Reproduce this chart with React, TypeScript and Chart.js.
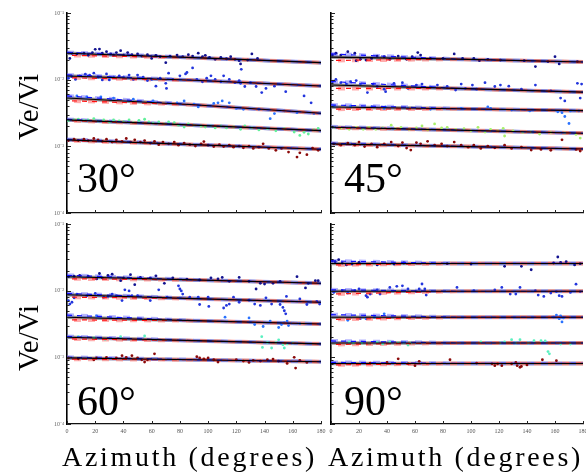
import React, { useEffect, useRef } from 'react';
import { Chart, registerables } from 'chart.js';

Chart.register(...registerables);

// ---------- axis / tick data ----------
const azimuthTicks = [0, 20, 40, 60, 80, 100, 120, 140, 160, 180];
const yDecades = [1e-4, 1e-3, 1e-2];
const ySignificands = [1, 2, 3, 4, 5, 6, 7, 8, 9];
const yMajorValues = [1e-4, 1e-3, 1e-2, 1e-1];
const yMajorLabels = ['10⁻⁴', '10⁻³', '10⁻²', '10⁻¹'];
const fitX = [0, 90, 180];

// ---------- 30° ----------
const pts30L1 = [[2,0.0208],[3.5,0.0248],[7,0.0243],[12,0.025],[15,0.0232],[18,0.0255],[20,0.0285],[23,0.0288],[25,0.025],[28,0.0263],[31,0.0243],[33,0.0234],[35,0.0255],[38,0.0272],[40,0.0234],[43,0.0255],[46,0.0237],[50,0.0243],[53,0.0226],[57,0.0237],[60,0.0208],[63,0.0232],[66,0.0221],[70,0.018],[73,0.0226],[78,0.0234],[82,0.0221],[86,0.0237],[89,0.0226],[93,0.025],[96,0.0221],[98,0.0232],[101,0.0216],[105,0.0202],[109,0.0216],[113,0.0206],[116,0.0221],[119,0.0202],[122,0.0193],[123,0.0172],[128,0.0197],[131,0.0243],[135,0.0208]];
const pts30L2 = [[1,0.0105],[3.5,0.0111],[6,0.0101],[9,0.0114],[13,0.0121],[16,0.0117],[19,0.0125],[22,0.0109],[25,0.0099],[28,0.0122],[30,0.0099],[33,0.0109],[37,0.0114],[40,0.0109],[44,0.0117],[47,0.0101],[50,0.0117],[54,0.0109],[57,0.0097],[60,0.0101],[63,0.008],[66,0.0105],[70,0.0088],[70.5,0.0074],[72,0.0125],[75,0.0101],[80,0.0114],[84,0.0122],[85,0.0128],[89,0.015],[92,0.0101],[96,0.0093],[99,0.0105],[102,0.0114],[105,0.0101],[109,0.0093],[111,0.0114],[115,0.0101],[119,0.009],[122,0.0097],[123,0.0088],[123.5,0.0143],[126,0.0079],[130,0.009],[134,0.0079],[138,0.0064],[141,0.0074],[147,0.008],[155,0.0066],[168,0.0057],[173,0.0045]];
const pts30L3 = [[7,0.0057],[14,0.0055],[24,0.0055],[33,0.0053],[47,0.0051],[61,0.0048],[78,0.0045],[83,0.0048],[90,0.0043],[93,0.0039],[104,0.0044],[107,0.0045],[110,0.0048],[115,0.0045],[120,0.0037],[125,0.0036],[136,0.0036],[144,0.0026],[147,0.0031],[154,0.0034],[163,0.0032],[175,0.0031]];
const pts30L4 = [[1,0.00244],[5,0.00249],[8,0.00255],[12,0.00244],[15,0.00249],[19,0.00261],[22,0.0024],[26,0.00249],[30,0.00232],[33,0.00249],[37,0.0024],[40,0.00232],[44,0.00249],[47,0.00227],[51,0.00244],[55,0.00255],[58,0.00232],[61,0.00222],[65,0.00232],[69,0.00217],[72,0.00232],[76,0.00227],[79,0.00208],[83,0.00195],[86,0.00217],[90,0.00208],[95,0.00202],[98,0.00195],[102,0.00202],[105,0.00189],[109,0.00202],[113,0.00189],[118,0.00195],[123,0.0018],[126,0.00202],[131,0.00189],[136,0.00176],[142,0.00184],[148,0.00171],[154,0.00184],[161,0.00164],[165,0.00146],[168,0.00162],[171,0.00153],[175,0.00176],[178,0.00186]];
const pts30L5 = [[1,0.00122],[5,0.00128],[8,0.00122],[12,0.00128],[15,0.00122],[19,0.00131],[22,0.00125],[25,0.00119],[28,0.00128],[32,0.00116],[35,0.00125],[39,0.00119],[42,0.00131],[45,0.00116],[48,0.00125],[52,0.00116],[55,0.00122],[59,0.00112],[62,0.00119],[65,0.00106],[68,0.00116],[72,0.00109],[76,0.00116],[79,0.00104],[83,0.00112],[87,0.00106],[91,0.00101],[95,0.00109],[97,0.00118],[100,0.00104],[104,0.00099],[108,0.00106],[111,0.00099],[115,0.00104],[118,0.00097],[122,0.00101],[125,0.00095],[129,0.00101],[132,0.00093],[136,0.00097],[139,0.00109],[143,0.00093],[148,0.00087],[152,0.00093],[157,0.00082],[163,0.00069],[165,0.0008],[170,0.00075],[174,0.00094],[178,0.00087]];
const black30Start = [0.0249, 0.01135, 0.00532, 0.00249, 0.00125];
const black30Mid = [0.0214, 0.0098, 0.0042, 0.00208, 0.00106];
const black30End = [0.018, 0.00805, 0.00313, 0.00172, 0.000906];
const blue30Start = [0.0256, 0.0118, 0.0057, 0.00253, 0.00127];
const red30Start = [0.0232, 0.0107, 0.00484, 0.00244, 0.00122];
const colors30 = ['#12128f', '#2235dd', '#2a72ff', '#62f09a', '#8b0a0a'];

// ---------- 45° ----------
const pts45L1 = [[1,0.0234],[3.5,0.025],[7,0.0234],[12,0.0263],[17,0.025],[18,0.0193],[21,0.0202],[25,0.0197],[29,0.0208],[33,0.0226],[38,0.0221],[42,0.0202],[48,0.0226],[54,0.0202],[58,0.0221],[62,0.0255],[64,0.0234],[71,0.0208],[80,0.0208],[88,0.0243],[94,0.0208],[102,0.0208],[106,0.0193],[112,0.0202],[121,0.0197],[138,0.0193],[146,0.0157],[155,0.0187],[160,0.0221],[163,0.0172],[176,0.0187]];
const pts45L2 = [[1,0.0093],[3.5,0.0101],[7,0.009],[11,0.0086],[14,0.0093],[18,0.0097],[21,0.0086],[26,0.0064],[30,0.0086],[33,0.0079],[38,0.0072],[39,0.0066],[45,0.0088],[51,0.009],[55,0.0074],[61,0.0083],[65,0.0086],[71,0.0077],[76,0.0083],[83,0.0079],[89,0.007],[93,0.0086],[96,0.0074],[101,0.0083],[104,0.0072],[110,0.009],[117,0.0079],[121,0.0083],[127,0.008],[136,0.0072],[146,0.0083],[157,0.0068],[164,0.0053],[167,0.0048],[176,0.0088],[178,0.0053],[179,0.0086]];
const pts45L3 = [[2,0.004],[14,0.004],[29,0.0039],[38,0.0037],[39,0.0039],[55,0.0037],[71,0.0036],[93,0.0037],[112,0.0039],[114,0.0037],[129,0.0035],[142,0.0034],[162,0.0033],[165,0.0032],[167,0.0028],[170,0.0022],[171,0.0034],[177,0.0034]];
const pts45L4 = [[2,0.00193],[7,0.00186],[13,0.0018],[18,0.00193],[23,0.0018],[27,0.00193],[32,0.0018],[37,0.00189],[43,0.00208],[46,0.00184],[50,0.00193],[56,0.0018],[61,0.00189],[65,0.00202],[69,0.00176],[74,0.00217],[79,0.00189],[83,0.00193],[89,0.0018],[95,0.00184],[100,0.00171],[105,0.00193],[110,0.00164],[114,0.0018],[119,0.00171],[123,0.00186],[124,0.00143],[130,0.00171],[137,0.00162],[143,0.00164],[149,0.00153],[157,0.00162],[167,0.00159],[175,0.00151],[178,0.00133]];
const pts45L5 = [[2,0.00109],[7,0.00104],[12,0.00112],[17,0.00104],[20,0.00116],[24,0.00099],[29,0.00109],[33,0.00097],[38,0.00109],[43,0.00116],[48,0.00101],[51,0.00114],[54,0.00094],[57,0.00088],[61,0.00114],[64,0.00109],[69,0.00119],[74,0.00104],[79,0.00109],[83,0.00101],[88,0.00116],[93,0.00104],[98,0.00097],[102,0.00104],[107,0.00093],[112,0.00101],[117,0.00095],[124,0.00104],[129,0.00093],[136,0.00097],[143,0.00088],[150,0.0009],[157,0.00087],[165,0.00125],[175,0.0009],[178,0.00085]];
const black45Start = [0.0218, 0.0083, 0.0039, 0.00193, 0.00109];
const black45Mid = [0.0203, 0.0074, 0.00366, 0.00175, 0.001];
const black45End = [0.0184, 0.0065, 0.00343, 0.00157, 0.000914];
const blue45Start = [0.0243, 0.0094, 0.00418, 0.00196, 0.00111];
const red45Start = [0.0194, 0.0074, 0.00361, 0.0019, 0.00107];
const colors45 = ['#12128f', '#2235dd', '#2a72ff', '#a8f06a', '#8b0a0a'];

// ---------- 60° ----------
const pts60L1 = [[1,0.0162],[5,0.0165],[9,0.0169],[15,0.0165],[21,0.015],[23,0.0181],[25,0.0156],[29,0.0169],[32,0.0177],[38,0.0141],[40,0.0156],[45,0.0174],[48,0.0123],[52,0.0158],[59,0.0156],[63,0.0167],[69,0.0129],[75,0.0156],[85,0.0149],[94,0.0145],[102,0.0156],[107,0.015],[110,0.0158],[115,0.0138],[122,0.0158],[129,0.0138],[134,0.0106],[137,0.0129],[140,0.0126],[146,0.0129],[151,0.0138],[163,0.0162],[169,0.011],[171,0.0129],[176,0.0141],[178,0.0141]];
const pts60L2 = [[1,0.0071],[2,0.0063],[3.5,0.0067],[5,0.0078],[7,0.0089],[14,0.0084],[20,0.0091],[26,0.008],[29,0.0082],[32,0.0089],[35,0.0084],[39,0.0071],[41,0.0103],[44,0.0099],[46,0.0084],[50,0.0084],[59,0.0071],[65,0.0103],[71,0.008],[79,0.0118],[80,0.0106],[81,0.0099],[82,0.0089],[87,0.008],[93,0.008],[94,0.0062],[100,0.008],[100.5,0.0058],[111,0.0055],[113,0.006],[115,0.0063],[118,0.008],[122,0.0067],[129,0.0072],[133,0.0063],[137,0.006],[141,0.0078],[145,0.0063],[151,0.0062],[153,0.0056],[154,0.005],[155,0.0045],[155.5,0.0082],[165,0.0075],[170,0.0062],[177,0.0069],[179,0.0063]];
const pts60L3 = [[21,0.0042],[35,0.0038],[112,0.004],[129,0.0039],[133,0.0031],[139,0.0029],[144,0.0035],[150,0.0028],[152,0.0031],[154,0.0033],[156,0.0035],[157,0.003],[165,0.0032]];
const pts60L4 = [[8,0.00204],[19,0.00195],[27,0.00186],[38,0.00204],[55,0.00209],[138,0.00204],[138.5,0.00141],[142,0.00167],[145,0.00138],[148,0.00167],[150,0.00183],[153,0.00155],[154,0.00138],[156,0.00159],[160,0.00164]];
const pts60L5 = [[1,0.00098],[8,0.00095],[19,0.00092],[21,0.00098],[28,0.001],[35,0.00098],[39,0.00106],[42,0.001],[46,0.00106],[50,0.00098],[53,0.00092],[55,0.00085],[57,0.00092],[62,0.00113],[92,0.00102],[94,0.00098],[97,0.00095],[100,0.00098],[104,0.00092],[107,0.00085],[120,0.00092],[125,0.00088],[129,0.00084],[132,0.0009],[137,0.00088],[142,0.00092],[146,0.00094],[150,0.00088],[156,0.00081],[161,0.001],[162,0.00069],[165,0.0009],[170,0.00084]];
const black60Start = [0.0162, 0.0087, 0.004, 0.002, 0.00098];
const black60Mid = [0.0145, 0.0076, 0.00355, 0.00178, 0.00092];
const black60End = [0.0129, 0.0067, 0.00316, 0.00159, 0.00086];
const blue60Start = [0.017, 0.0091, 0.0043, 0.00205, 0.001];
const red60Start = [0.0151, 0.008, 0.00365, 0.00189, 0.00094];
const colors60 = ['#12128f', '#2235dd', '#2a72ff', '#5af0c0', '#8b0a0a'];

// ---------- 90° ----------
const pts90L1 = [[1,0.0281],[3,0.0272],[5.5,0.0292],[8,0.026],[11,0.0243],[15,0.0251],[20,0.0266],[33,0.0243],[45,0.0251],[52,0.026],[83,0.0254],[100,0.0251],[124,0.0232],[136,0.0232],[143,0.0206],[159,0.026],[162,0.032],[164,0.0266],[168,0.0272],[174,0.0243],[178,0.0254]];
const pts90L2 = [[2,0.0094],[8,0.01],[12,0.0092],[17,0.01],[20,0.0106],[25,0.0084],[26,0.008],[28,0.0089],[33,0.0103],[35,0.0089],[42,0.0112],[47,0.0116],[51,0.0118],[55,0.0106],[61,0.0097],[63,0.0106],[65,0.0126],[67,0.0106],[68,0.0086],[90,0.0112],[102,0.01],[117,0.0103],[122,0.0112],[128,0.0089],[132,0.0089],[135,0.0112],[146,0.01],[148,0.0086],[152,0.0082],[157,0.0092],[161,0.0097],[163,0.0084],[165,0.0082],[171,0.0094],[175,0.0125],[178,0.0097]];
const pts90L3 = [[12,0.0036],[21,0.0038],[25,0.0038],[31,0.004],[38,0.0045],[159,0.004],[161,0.0043],[163,0.0038],[164,0.0042],[165,0.0034],[166,0.0039]];
const pts90L4 = [[13,0.00171],[16,0.00164],[22,0.00164],[27,0.00159],[33,0.00168],[37,0.00159],[42,0.00171],[48,0.00164],[52,0.00168],[55,0.00153],[57,0.00164],[107,0.00171],[121,0.00164],[124,0.00171],[129,0.00184],[132,0.00164],[135,0.00184],[141,0.00164],[145,0.00178],[150,0.00178],[153,0.00176],[155,0.00122],[156,0.00113],[164,0.00158],[171,0.00158]];
const pts90L5 = [[28,0.00082],[40,0.00084],[48,0.00095],[55,0.0008],[60,0.00075],[63,0.00087],[85,0.00092],[104,0.00082],[115,0.0008],[117,0.00075],[119,0.0008],[122,0.00075],[129,0.0008],[132,0.00084],[133,0.00075],[135,0.00071],[136,0.00073],[140,0.00077],[151,0.00092],[161,0.00089]];
const black90Start = [0.0256, 0.0098, 0.004, 0.00164, 0.00081];
const black90Mid = [0.0256, 0.0098, 0.004, 0.00164, 0.00081];
const black90End = [0.0256, 0.0098, 0.004, 0.00164, 0.00081];
const blue90Start = [0.0279, 0.0103, 0.00437, 0.00176, 0.00084];
const red90Start = [0.0243, 0.0089, 0.0037, 0.00156, 0.00077];
const colors90 = ['#12128f', '#2235dd', '#2a72ff', '#5af0c0', '#8b0a0a'];

// ---------- helpers ----------
function toXY(arr: number[][]) {
  return arr.map((p) => ({ x: p[0], y: p[1] }));
}

function fitLine(data: any[], color: string, width: number, dash: number[], offset: number, order: number) {
  return {
    type: 'line',
    data,
    showLine: true,
    borderColor: color,
    backgroundColor: color,
    borderWidth: width,
    borderDash: dash,
    borderDashOffset: offset,
    pointRadius: 0,
    fill: false,
    tension: 0,
    order,
  };
}

function buildDatasets(points: number[][][], b0: number[], b90: number[], b180: number[], blue0: number[], red0: number[], colors: string[]) {
  const ds: any[] = [];
  for (let i = 0; i < points.length; i++) {
    const blackVals = [b0[i], b90[i], b180[i]];
    const black = fitX.map((x, k) => ({ x, y: blackVals[k] }));
    const blue = [{ x: fitX[0], y: blue0[i] }, { x: fitX[1], y: b90[i] }, { x: fitX[2], y: b180[i] }];
    const red = [{ x: fitX[0], y: red0[i] }, { x: fitX[1], y: b90[i] }, { x: fitX[2], y: b180[i] }];
    ds.push(fitLine(black, 'rgba(120,120,120,0.8)', 3.5, [], 0, 8));
    ds.push(fitLine(red, 'rgba(255,105,105,0.55)', 4, [7, 7], 7, 7));
    ds.push(fitLine(blue, 'rgba(110,110,255,0.5)', 4, [7, 7], 0, 6));
    ds.push({
      type: 'scatter',
      data: toXY(points[i]),
      showLine: false,
      pointRadius: 1.4,
      pointHoverRadius: 1.4,
      pointBorderWidth: 0,
      pointBackgroundColor: colors[i],
      backgroundColor: colors[i],
      borderColor: colors[i],
      order: 4,
    });
    ds.push(fitLine(red, '#ff1010', 1.2, [5, 5], 5, 3));
    ds.push(fitLine(blue, '#1010ff', 1.2, [5, 5], 0, 2));
    ds.push(fitLine(black, '#000000', 1.1, [], 0, 1));
  }
  return ds;
}

const inwardTicks = {
  id: 'inwardTicks',
  afterDatasetsDraw(chart: any) {
    const { ctx, chartArea, scales } = chart;
    const x = scales.x;
    const y = scales.y;
    ctx.save();
    ctx.strokeStyle = '#222';
    ctx.lineWidth = 1;
    x.ticks.forEach((t: any) => {
      const px = Math.round(x.getPixelForValue(t.value)) + 0.5;
      ctx.beginPath();
      ctx.moveTo(px, chartArea.bottom);
      ctx.lineTo(px, chartArea.bottom - 3);
      ctx.stroke();
    });
    y.ticks.forEach((t: any) => {
      const py = Math.round(y.getPixelForValue(t.value)) + 0.5;
      const major = yMajorValues.some((m) => Math.abs(m - t.value) / m < 1e-6);
      ctx.beginPath();
      ctx.moveTo(chartArea.left, py);
      ctx.lineTo(chartArea.left + (major ? 4 : 2.5), py);
      ctx.stroke();
    });
    ctx.restore();
  },
};

type PanelProps = {
  left: number; top: number; width: number; height: number;
  yWidth: number; xHeight: number; padTop: number; padRight: number;
  showY: boolean; showX: boolean; datasets: any[];
};

function Panel(p: PanelProps) {
  const ref = useRef<HTMLCanvasElement>(null);
  useEffect(() => {
    if (!ref.current) return;
    const yTickValues: number[] = [];
    yDecades.forEach((d) => ySignificands.forEach((s) => yTickValues.push(s * d)));
    yTickValues.push(1e-1);
    const chart = new Chart(ref.current, {
      type: 'scatter',
      data: { datasets: p.datasets },
      options: {
        animation: false,
        responsive: false,
        maintainAspectRatio: false,
        devicePixelRatio: 1,
        events: [],
        layout: { autoPadding: false, padding: { top: p.padTop, right: p.padRight, left: 0, bottom: 0 } },
        plugins: { legend: { display: false }, tooltip: { enabled: false } },
        scales: {
          x: {
            type: 'linear',
            min: 0,
            max: 180,
            afterBuildTicks: (s: any) => { s.ticks = azimuthTicks.map((v) => ({ value: v })); },
            afterFit: (s: any) => { s.height = p.xHeight; s.paddingLeft = 0; s.paddingRight = 0; },
            grid: { display: false, drawTicks: false },
            border: { display: true, color: '#111', width: 1.3 },
            ticks: { display: p.showX, autoSkip: false, maxRotation: 0, padding: 4, color: '#555', font: { family: 'Liberation Serif', size: 6 } },
          },
          y: {
            type: 'logarithmic',
            min: 1e-4,
            max: 1e-1,
            afterBuildTicks: (s: any) => { s.ticks = yTickValues.map((v) => ({ value: v })); },
            afterFit: (s: any) => { s.width = p.yWidth; s.paddingTop = 0; s.paddingBottom = 0; },
            grid: { display: false, drawTicks: false },
            border: { display: true, color: '#000', width: 1.6 },
            ticks: {
              display: p.showY,
              autoSkip: false,
              padding: 3,
              color: '#666',
              font: { family: 'Liberation Serif', size: 6 },
              callback: (v: any) => {
                const idx = yMajorValues.findIndex((m) => Math.abs(m - Number(v)) / m < 1e-6);
                return idx >= 0 ? yMajorLabels[idx] : '';
              },
            },
          },
        },
      },
      plugins: [inwardTicks],
    } as any);
    return () => chart.destroy();
  }, []);
  return (
    <canvas
      ref={ref}
      width={p.width}
      height={p.height}
      style={{ position: 'absolute', left: p.left, top: p.top, width: p.width, height: p.height }}
    />
  );
}

const serif = '"Liberation Serif", "Times New Roman", serif';

function Label(props: { text: string; left: number; top: number; size: number; spacing?: number }) {
  return (
    <div
      style={{
        position: 'absolute', left: props.left, top: props.top, fontFamily: serif,
        fontSize: props.size, lineHeight: props.size + 'px', whiteSpace: 'nowrap', color: '#000',
        letterSpacing: (props.spacing || 0) + 'px',
      }}
    >
      {props.text}
    </div>
  );
}

function VLabel(props: { text: string; cx: number; cy: number; size: number }) {
  return (
    <div
      style={{
        position: 'absolute', left: props.cx, top: props.cy, fontFamily: serif, fontSize: props.size,
        lineHeight: props.size + 'px', whiteSpace: 'nowrap', color: '#000',
        transform: 'translate(-50%, -50%) rotate(-90deg)',
      }}
    >
      {props.text}
    </div>
  );
}

export default function App() {
  const ds30 = buildDatasets([pts30L1, pts30L2, pts30L3, pts30L4, pts30L5], black30Start, black30Mid, black30End, blue30Start, red30Start, colors30);
  const ds45 = buildDatasets([pts45L1, pts45L2, pts45L3, pts45L4, pts45L5], black45Start, black45Mid, black45End, blue45Start, red45Start, colors45);
  const ds60 = buildDatasets([pts60L1, pts60L2, pts60L3, pts60L4, pts60L5], black60Start, black60Mid, black60End, blue60Start, red60Start, colors60);
  const ds90 = buildDatasets([pts90L1, pts90L2, pts90L3, pts90L4, pts90L5], black90Start, black90Mid, black90End, blue90Start, red90Start, colors90);
  return (
    <div style={{ position: 'absolute', left: 0, top: 0, width: 586, height: 474, background: '#fff', overflow: 'hidden' }}>
      <Panel left={0} top={0} width={326} height={220} yWidth={67} xHeight={7} padTop={13} padRight={5} showY={true} showX={false} datasets={ds30} />
      <Panel left={326} top={0} width={260} height={220} yWidth={5} xHeight={7} padTop={13} padRight={3} showY={false} showX={false} datasets={ds45} />
      <Panel left={0} top={220} width={326} height={254} yWidth={67} xHeight={50} padTop={4} padRight={5} showY={true} showX={true} datasets={ds60} />
      <Panel left={326} top={220} width={260} height={254} yWidth={5} xHeight={50} padTop={4} padRight={3} showY={false} showX={true} datasets={ds90} />
      <VLabel text="Ve/Vi" cx={28} cy={107} size={29} />
      <VLabel text="Ve/Vi" cx={28} cy={338} size={29} />
      <Label text="30°" left={77} top={157} size={42} />
      <Label text="45°" left={344} top={157} size={42} />
      <Label text="60°" left={77} top={380} size={42} />
      <Label text="90°" left={344} top={380} size={42} />
      <Label text="Azimuth (degrees)" left={62} top={443} size={28} spacing={2.7} />
      <Label text="Azimuth (degrees)" left={328} top={443} size={28} spacing={2.7} />
    </div>
  );
}
